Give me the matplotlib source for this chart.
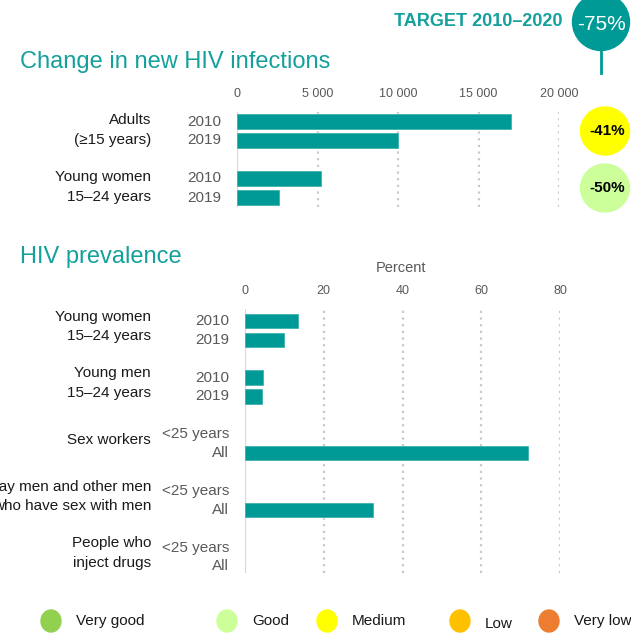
import matplotlib
matplotlib.use("Agg")
import matplotlib.pyplot as plt
import matplotlib.transforms as mtransforms
from matplotlib.patches import Ellipse
import numpy as np

plt.rcParams['font.family'] = ['Liberation Sans', 'DejaVu Sans']

# ---------------- data ----------------
inf_groups = ["Adults\n(\u226515 years)", "Young women\n15\u201324 years"]
inf_years = ["2010", "2019"]
inf_values = [[17000, 10000], [5200, 2600]]
inf_change = ["-41%", "-50%"]
inf_status = ["Medium", "Good"]
inf_ticks = [0, 5000, 10000, 15000, 20000]
inf_ticklabels = ["0", "5 000", "10 000", "15 000", "20 000"]

prev_groups = ["Young women\n15\u201324 years", "Young men\n15\u201324 years", "Sex workers",
               "Gay men and other men\nwho have sex with men", "People who\ninject drugs"]
prev_rowlabels = [["2010", "2019"], ["2010", "2019"], ["<25 years", "All"],
                  ["<25 years", "All"], ["<25 years", "All"]]
prev_values = [[13.5, 9.9], [4.6, 4.3], [None, 71.8], [None, 32.6], [None, None]]
prev_ticks = [0, 20, 40, 60, 80]

target_label = "TARGET 2010\u20132020"
target_value = "-75%"

legend_labels = ["Very good", "Good", "Medium", "Low", "Very low"]
status_colors = {"Very good": "#92D050", "Good": "#CCFF99", "Medium": "#FFFF00",
                 "Low": "#FFC000", "Very low": "#ED7D31"}

TEAL = "#009A96"
TITLE_TEAL = "#14A09B"
GRAY = "#595959"
BLACK = "#1a1a1a"

W, H = 631, 634
fig = plt.figure(figsize=(W / 100, H / 100), dpi=100)
fig.patch.set_facecolor("white")


def add_px_axes(x0, y0, x1, y1):
    return fig.add_axes([x0 / W, 1 - y1 / H, (x1 - x0) / W, (y1 - y0) / H])


def row_positions(n_groups, group_step=3):
    return [[g * group_step, g * group_step + 1] for g in range(n_groups)]


def style_axis(ax, ticks, ticklabels, xmax):
    ax.set_xlim(0, xmax)
    ax.set_xticks(ticks)
    ax.set_xticklabels(ticklabels)
    ax.xaxis.tick_top()
    ax.tick_params(axis='x', length=0, pad=8.5, labelsize=9, labelcolor=GRAY)
    ax.tick_params(axis='y', left=False, labelleft=False)
    for s in ax.spines.values():
        s.set_visible(False)
    for t in ticks:
        if t == 0:
            ax.axvline(t, color="#d9d9d9", lw=1.6, zorder=1)
        else:
            ax.axvline(t, color="#c9c9c9", lw=1.6, ls=(0, (1, 2.0)), zorder=1)
    ax.set_facecolor("none")


def draw_bars(ax, positions, values):
    ys, ws = [], []
    for pos, vals in zip(positions, values):
        for p, v in zip(pos, vals):
            if v is not None:
                ys.append(p)
                ws.append(v)
    ax.barh(ys, ws, height=0.76, color=TEAL, edgecolor="#3fb2ae", linewidth=0.6, zorder=2)


# ---------------- top chart ----------------
ax1 = add_px_axes(237, 112, 559, 207)
style_axis(ax1, inf_ticks, inf_ticklabels, 20000)
ax1.set_ylim(4.5, -0.5)
pos1 = row_positions(len(inf_groups))
draw_bars(ax1, pos1, inf_values)
tr1c = mtransforms.blended_transform_factory(fig.transFigure, ax1.transData)
for g, pos in zip(inf_groups, pos1):
    ax1.text(151 / W, (pos[0] + pos[1]) / 2 - 0.05, g, transform=tr1c, ha="right", va="center",
             fontsize=11, color=BLACK, linespacing=1.55)
    for p, yl in zip(pos, inf_years):
        ax1.text(221 / W, p, yl, transform=tr1c, ha="right", va="center",
                 fontsize=11, color=GRAY)

# ---------------- bottom chart ----------------
ax2 = add_px_axes(245, 309, 560, 573)
style_axis(ax2, prev_ticks, [str(t) for t in prev_ticks], 80)
ax2.set_ylim(13.35, -0.63)
pos2 = row_positions(len(prev_groups))
draw_bars(ax2, pos2, prev_values)
tr2c = mtransforms.blended_transform_factory(fig.transFigure, ax2.transData)
for g, pos, rls in zip(prev_groups, pos2, prev_rowlabels):
    ax2.text(151 / W, (pos[0] + pos[1]) / 2 - 0.2, g, transform=tr2c, ha="right", va="center",
             fontsize=11, color=BLACK, linespacing=1.5)
    for p, yl in zip(pos, rls):
        ax2.text(229 / W, p, yl, transform=tr2c, ha="right", va="center",
                 fontsize=11, color=GRAY)

# ---------------- overlay (titles, circles, legend) ----------------
ov = fig.add_axes([0, 0, 1, 1])
ov.set_xlim(0, W)
ov.set_ylim(H, 0)
ov.axis("off")
ov.set_facecolor("none")

ov.text(20, 68, "Change in new HIV infections", fontsize=17, color=TITLE_TEAL,
        ha="left", va="baseline")
ov.text(20, 263, "HIV prevalence", fontsize=17, color=TITLE_TEAL, ha="left", va="baseline")
ov.text(401, 268, "Percent", fontsize=10.5, color=GRAY, ha="center", va="center")

# target
ov.text(563, 22, target_label, fontsize=13, fontweight="bold", color=TITLE_TEAL,
        ha="right", va="center")
ov.add_patch(Ellipse((601, 22), 57, 57, color=TEAL, zorder=3))
ov.plot([601, 601], [48, 73], color=TEAL, lw=2, zorder=3)
ov.text(601, 24, target_value, fontsize=15, color="white", ha="center", va="center", zorder=4)

# status circles for infections
for pos, ch, st in zip(pos1, inf_change, inf_status):
    yc = ax1.transData.transform((0, (pos[0] + pos[1]) / 2))[1]
    ypx = H - yc
    ov.add_patch(Ellipse((605, ypx), 49, 48, color=status_colors[st], zorder=3))
    ov.text(607, ypx, ch, fontsize=11, fontweight="bold", color="black",
            ha="center", va="center", zorder=4)

# legend
leg_x = [51, 227, 327, 460, 549]
for x, lab in zip(leg_x, legend_labels):
    ov.add_patch(Ellipse((x, 621), 20, 22, color=status_colors[lab]))
    ov.text(x + 25, 621 if lab != "Low" else 624, lab, fontsize=11, color=BLACK,
            ha="left", va="center")

fig.savefig("out.png", dpi=100, facecolor="white")
